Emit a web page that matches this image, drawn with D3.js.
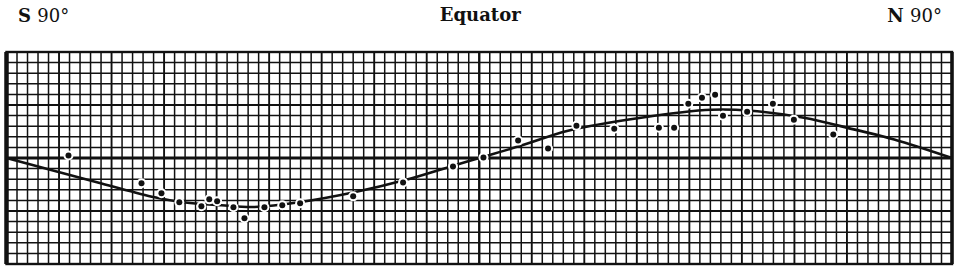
<!DOCTYPE html>
<html>
<head>
<meta charset="utf-8">
<script src="https://cdn.jsdelivr.net/npm/d3@7/dist/d3.min.js"></script>
<style>
  html, body { margin: 0; padding: 0; background: #fff; }
  svg { display: block; }
</style>
</head>
<body>
<div id="chart"></div>
<script>
// Latitude curve on ruled paper: S 90° .. N 90°, value in grid units (+ up).

const edgeLabels = ["S 90°", "Equator", "N 90°"];

// smooth curve drawn through the points (latitude, value)
const curveLat = [-90, -71.9, -61.8, -56.7, -49.1, -42.8, -33.9, -23.8, -14.3, -4.8, 0, 8.0, 16.9, 30.8, 44.1, 51.7, 61.8, 71.3, 79.0, 90];
const curveVal = [0, -2.4, -3.7, -4.15, -4.46, -4.62, -4.15, -3.24, -2.11, -0.7, 0, 1.17, 2.58, 3.8, 4.55, 4.46, 3.8, 2.7, 1.75, 0];

// observed dots
const dotLat = [-78.2, -64.3, -60.5, -57.1, -52.9, -51.4, -49.9, -46.8, -44.7, -40.9, -37.5, -34.1, -24.0, -14.5, -5.0, 0.8, 7.4, 13.1, 18.5, 25.7, 34.2, 37.1, 39.8, 42.4, 44.9, 46.4, 51.0, 55.9, 59.9, 67.4];
const dotVal = [0.23, -2.39, -3.33, -4.18, -4.55, -3.9, -4.08, -4.65, -5.68, -4.65, -4.46, -4.27, -3.62, -2.3, -0.8, 0.05, 1.64, 0.89, 3.05, 2.77, 2.86, 2.86, 5.12, 5.68, 5.96, 3.99, 4.37, 5.12, 3.62, 2.21];

const width = 960, height = 272;
const frame = { left: 6.5, right: 952, top: 52, bottom: 264 };

const svg = d3.select("#chart").append("svg")
  .attr("width", width).attr("height", height)
  .attr("viewBox", `0 0 ${width} ${height}`);

const x = d3.scaleLinear().domain([-90, 90]).range([frame.left, frame.right]);
const y = d3.scaleLinear().domain([-10, 10]).range([frame.bottom, frame.top]);

// grid: one cell = 2° of latitude, one unit of value
const gGrid = svg.append("g");
const vLines = d3.range(-88, 90, 2);
const hLines = d3.range(-9, 10, 1);

gGrid.selectAll("line.v").data(vLines).join("line").attr("class", "v")
  .attr("x1", d => x(d)).attr("x2", d => x(d))
  .attr("y1", frame.top).attr("y2", frame.bottom)
  .attr("stroke", "#111")
  .attr("stroke-width", d => d === 0 ? 2.4 : (d % 10 === 0 ? 1.9 : 1.5));

gGrid.selectAll("line.h").data(hLines).join("line").attr("class", "h")
  .attr("x1", frame.left).attr("x2", frame.right)
  .attr("y1", d => y(d)).attr("y2", d => y(d))
  .attr("stroke", "#111")
  .attr("stroke-width", d => d === 0 ? 2.8 : (d % 5 === 0 ? 1.9 : 1.5));

// frame
svg.append("rect")
  .attr("x", frame.left).attr("y", frame.top)
  .attr("width", frame.right - frame.left).attr("height", frame.bottom - frame.top)
  .attr("fill", "none").attr("stroke", "#111").attr("stroke-width", 2.4);
svg.append("line")
  .attr("x1", frame.left).attr("x2", frame.left).attr("y1", frame.top).attr("y2", frame.bottom)
  .attr("stroke", "#111").attr("stroke-width", 4.5);
svg.append("line")
  .attr("x1", frame.right).attr("x2", frame.right).attr("y1", frame.top).attr("y2", frame.bottom)
  .attr("stroke", "#111").attr("stroke-width", 3.5);

// curve
const curvePts = curveLat.map((d, i) => [d, curveVal[i]]);
const line = d3.line().x(d => x(d[0])).y(d => y(d[1])).curve(d3.curveCatmullRom.alpha(0.5));
svg.append("path").datum(curvePts)
  .attr("d", line)
  .attr("fill", "none").attr("stroke", "#111").attr("stroke-width", 2.6);

// dots: white halo breaks the curve like the pen gaps
const dots = dotLat.map((d, i) => ({ lat: d, v: dotVal[i] }));
svg.append("g").selectAll("circle").data(dots).join("circle")
  .attr("cx", d => x(d.lat)).attr("cy", d => y(d.v))
  .attr("r", 5).attr("fill", "#fff");
svg.append("g").selectAll("circle").data(dots).join("circle")
  .attr("cx", d => x(d.lat)).attr("cy", d => y(d.v))
  .attr("r", 3).attr("fill", "#111");

// header labels
const font = "'DejaVu Serif', serif";
function edge(label, xPos, anchor) {
  const [a, b] = label.split(" ");
  const t = svg.append("text").attr("x", xPos).attr("y", 22)
    .attr("text-anchor", anchor).attr("font-family", font).attr("font-size", 18).attr("fill", "#111");
  t.append("tspan").attr("font-weight", "bold").text(a + " ");
  t.append("tspan").text(b);
}
edge(edgeLabels[0], 18, "start");
edge(edgeLabels[2], 942, "end");
svg.append("text").attr("x", x(0) + 1).attr("y", 21)
  .attr("text-anchor", "middle").attr("font-family", font)
  .attr("font-size", 18).attr("font-weight", "bold").attr("fill", "#111")
  .text(edgeLabels[1]);
</script>
</body>
</html>
